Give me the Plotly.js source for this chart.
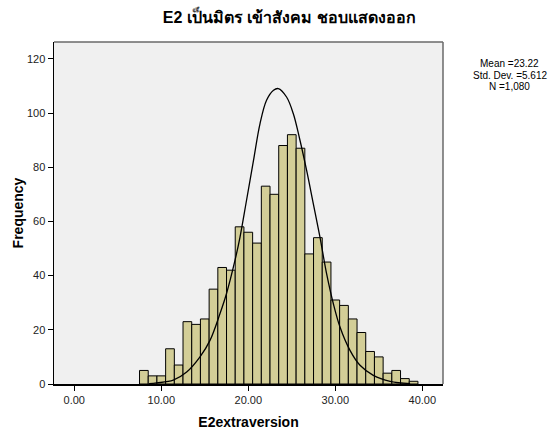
<!DOCTYPE html>
<html>
<head>
<meta charset="utf-8">
<script src="https://cdn.plot.ly/plotly-3.0.1.min.js"></script>
<style>
html,body{margin:0;padding:0;background:#fff;}
#chart{width:554px;height:430px;}
</style>
</head>
<body>
<div id="chart"></div>
<script>
// Histogram bins (centers) and frequencies
const binCenters = [8,9,10,11,12,13,14,15,16,17,18,19,20,21,22,23,24,25,26,27,28,29,30,31,32,33,34,35,36,37,38,39];
const frequencies = [5,3,3,13,7,23,22,24,35,43,42,58,56,52,73,70,88,92,87,48,54,45,31,29,24,19,12,10,4,5,2,1];

// Normal curve points
const curveX = [8.6,9.47,11.38,12.92,14.45,15.6,16.75,17.5,18.47,19.05,19.8,20.6,21.35,22.1,22.9,23.45,24.4,25.17,25.9,26.7,27.47,28.24,29.0,29.77,30.54,31.69,32.84,34.37,36.3,38.6];
const curveY = [0.1,0.4,1.4,4.4,10,16.1,26,33.4,45.6,54.2,67.8,82.5,96.1,104.7,108.4,109,105.9,99.8,90.5,78.9,66.6,54.2,40.7,29.7,21,12.4,6.9,3.2,1.0,0.15];

const xTicks = [0,10,20,30,40];
const xTickLabels = ['0.00','10.00','20.00','30.00','40.00'];
const yTicks = [0,20,40,60,80,100,120];

const stats = ['Mean =23.22','Std. Dev. =5.612','N =1,080'];
const titleText = 'E2 เป็นมิตร เข้าสังคม ชอบแสดงออก';

const font = 'Liberation Sans, Arial, Helvetica, sans-serif';

const traces = [
  {
    type: 'bar',
    x: binCenters,
    y: frequencies,
    width: 1,
    marker: {color: '#D3CE97', line: {color: '#000', width: 1}},
    hoverinfo: 'skip'
  },
  {
    type: 'scatter',
    mode: 'lines',
    x: curveX,
    y: curveY,
    line: {color: '#000', width: 1.3, shape: 'spline'},
    hoverinfo: 'skip'
  }
];

const statY = [0.936, 0.9035, 0.871];

const layout = {
  width: 554,
  height: 430,
  margin: {l: 54, r: 111, t: 42, b: 46},
  paper_bgcolor: '#fff',
  plot_bgcolor: '#F0F0F0',
  showlegend: false,
  bargap: 0,
  font: {family: font, color: '#000', size: 11},
  title: {
    text: '<b>' + titleText + '</b>',
    x: 0.522, xanchor: 'center', xref: 'container',
    y: 0.96, yanchor: 'middle',
    font: {family: font, size: 16, color: '#000'}
  },
  xaxis: {
    range: [-2.33, 42.38],
    tickvals: xTicks,
    ticktext: xTickLabels,
    ticks: 'outside', ticklen: 5, tickcolor: '#000', tickwidth: 1,
    showgrid: false, zeroline: false,
    showline: true, linecolor: '#000', linewidth: 1.5,
    tickfont: {family: font, size: 11, color: '#222'},
    title: {text: '<b>E2extraversion</b>', font: {family: font, size: 14, color: '#000'}, standoff: 12}
  },
  yaxis: {
    range: [0, 126.2],
    tickvals: yTicks,
    ticks: 'outside', ticklen: 5, tickcolor: '#000', tickwidth: 1,
    showgrid: false, zeroline: false,
    showline: true, linecolor: '#000', linewidth: 1.5,
    tickfont: {family: font, size: 11, color: '#222'},
    title: {text: '<b>Frequency</b>', font: {family: font, size: 14, color: '#000'}, standoff: 0}
  },
  shapes: [
    {type: 'line', xref: 'paper', yref: 'paper', x0: 0, x1: 1, y0: 1, y1: 1, line: {color: '#6a6a6a', width: 1.5}},
    {type: 'line', xref: 'paper', yref: 'paper', x0: 1, x1: 1, y0: 0, y1: 1, line: {color: '#6a6a6a', width: 1.5}}
  ],
  annotations: stats.map((s, i) => ({
    text: s,
    xref: 'paper', yref: 'paper',
    x: 1.172, y: statY[i], xanchor: 'center', yanchor: 'middle',
    showarrow: false, align: 'center',
    font: {family: font, size: 10, color: '#000'}
  }))
};

Plotly.newPlot('chart', traces, layout, {displayModeBar: false, staticPlot: true});
</script>
</body>
</html>
